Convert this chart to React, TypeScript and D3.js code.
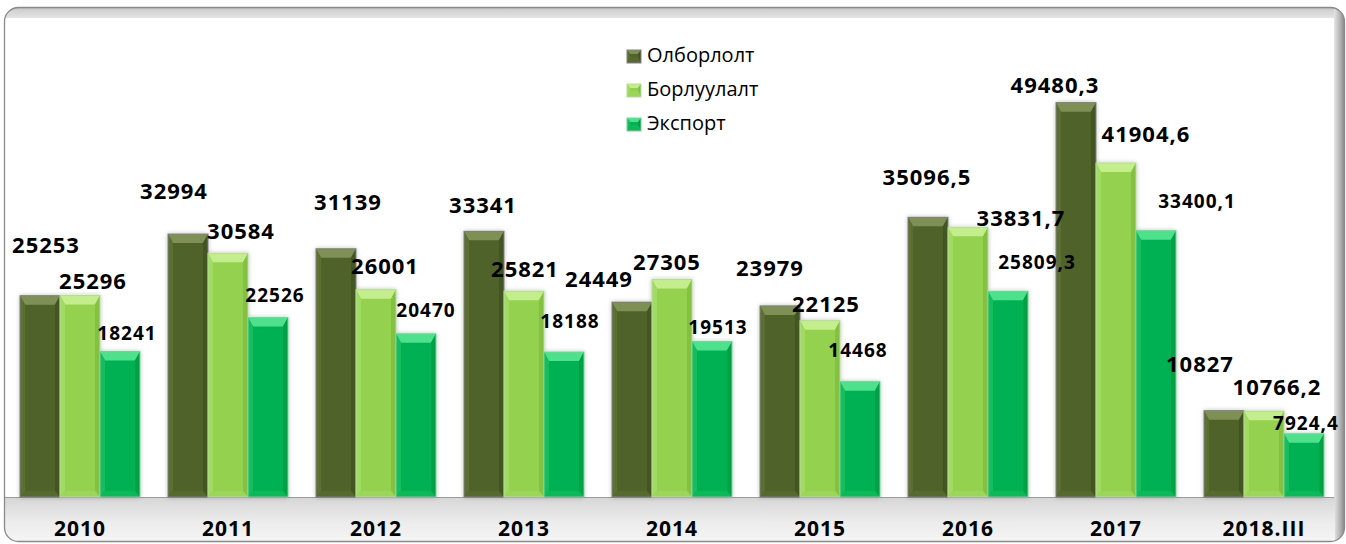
import React from "react";
import * as d3 from "d3";

// ---------- DATA ----------
const categories = ["2010", "2011", "2012", "2013", "2014", "2015", "2016", "2017", "2018.III"];
const seriesNames = ["Олборлолт", "Борлуулалт", "Экспорт"];
const olborlolt = [25253, 32994, 31139, 33341, 24449, 23979, 35096.5, 49480.3, 10827];
const borluulalt = [25296, 30584, 26001, 25821, 27305, 22125, 33831.7, 41904.6, 10766.2];
const eksport = [18241, 22526, 20470, 18188, 19513, 14468, 25809.3, 33400.1, 7924.4];
const seriesValues = [olborlolt, borluulalt, eksport];

// ---------- LAYOUT (label nudges relative to bar top centre, px) ----------
const labelNudges: [number, number][][] = [
  [[6, -43], [-14, -35], [12, -39], [-1, -18], [-33, -15], [-10, -30], [-1, -32], [-21, -10], [-24, -39]],
  [[13, -6], [13, -14], [9, -16], [1, -14], [-5, -9], [6, -9], [53, -1], [30, -21], [13, -16]],
  [[7, -12], [7, -15], [10, -17], [6, -24], [6, -7], [-2, -25], [29, -22], [41, -23], [2, -4]],
];

const W = 1346;
const H = 544;
const BASE = 497;

const palettes = [
  { main: "#4f6229", top: "#7e9055", left: "#5b6f33", right: "#435423", bottom: "#56692e", stroke: "#808080" },
  { main: "#93d150", top: "#c4ee8e", left: "#a1db62", right: "#84c143", bottom: "#9bd65a", stroke: "#b8d9a0" },
  { main: "#03b152", top: "#4fe08b", left: "#14bd5e", right: "#00a047", bottom: "#0cb858", stroke: "#7fcf9f" },
];

function BevelBar({ x, y, w, h, p, bt = 9, bs = 5 }: any) {
  const btt = Math.min(bt, h / 2);
  const bss = Math.min(bs, w / 2);
  const bb = Math.min(6, h / 2);
  return (
    <g>
      <rect x={x} y={y} width={w} height={h} fill={p.main} />
      <polygon points={`${x},${y} ${x + w},${y} ${x + w - bss},${y + btt} ${x + bss},${y + btt}`} fill={p.top} />
      <polygon points={`${x},${y} ${x + bss},${y + btt} ${x + bss},${y + h - bb} ${x},${y + h}`} fill={p.left} />
      <polygon points={`${x + w},${y} ${x + w - bss},${y + btt} ${x + w - bss},${y + h - bb} ${x + w},${y + h}`} fill={p.right} />
      <polygon points={`${x},${y + h} ${x + w},${y + h} ${x + w - bss},${y + h - bb} ${x + bss},${y + h - bb}`} fill={p.bottom} />
      <rect x={x} y={y} width={w} height={h} fill="none" stroke={p.stroke} strokeWidth={1} />
    </g>
  );
}

export default function App() {
  const x0 = d3.scaleBand<string>().domain(categories).range([6, 1338]).paddingInner(28 / 148).paddingOuter(0.0946);
  const x1 = d3.scaleBand<number>().domain([0, 1, 2]).range([0, x0.bandwidth()]).padding(0);
  const y = d3.scaleLinear().domain([0, 50000]).range([BASE, BASE - 398.5]);

  const labelFont = "'Open Sans', 'DejaVu Sans', sans-serif";

  return (
    <svg width={W} height={H} style={{ position: "absolute", left: 0, top: 0, background: "#fff" }}>
      <defs>
        <clipPath id="frameClip">
          <rect x={4.5} y={7.5} width={1340} height={534} rx={14} />
        </clipPath>
        <linearGradient id="topBand" x1="0" y1="0" x2="0" y2="1">
          <stop offset="0" stopColor="#b8b8b8" />
          <stop offset="0.3" stopColor="#d2d2d2" />
          <stop offset="1" stopColor="#e4e4e4" />
        </linearGradient>
        <linearGradient id="rightBand" x1="0" y1="0" x2="1" y2="0">
          <stop offset="0" stopColor="#e6e6e6" />
          <stop offset="0.5" stopColor="#b4b4b4" />
          <stop offset="1" stopColor="#7a7a7a" />
        </linearGradient>
        <linearGradient id="floor" x1="0" y1="0" x2="0" y2="1">
          <stop offset="0" stopColor="#d6d6d6" />
          <stop offset="0.5" stopColor="#ececec" />
          <stop offset="1" stopColor="#f7f7f7" />
        </linearGradient>
        <filter id="shadow" x="-20%" y="-10%" width="140%" height="120%">
          <feDropShadow dx="0" dy="0" stdDeviation="2" floodColor="#000" floodOpacity="0.25" />
        </filter>
      </defs>

      {/* frame */}
      <rect x={4.5} y={7.5} width={1340} height={534} rx={14} fill="#fff" />
      <g clipPath="url(#frameClip)">
        <rect x={4} y={7} width={1342} height={11} fill="url(#topBand)" />
        <rect x={1334} y={7} width={12} height={540} fill="url(#rightBand)" />
        <rect x={4} y={BASE} width={1331} height={50} fill="url(#floor)" />
      </g>
      <rect x={4.5} y={7.5} width={1340} height={534} rx={14} fill="none" stroke="#8a8a8a" strokeWidth={1.3} />
      <line x1={5} x2={1334} y1={BASE + 0.5} y2={BASE + 0.5} stroke="#9a9a9a" strokeWidth={1} />

      {/* bars */}
      <g filter="url(#shadow)">
        {categories.map((c, i) =>
          seriesValues.map((vals, s) => {
            const bx = (x0(c) as number) + (x1(s) as number);
            const by = y(vals[i]);
            return <BevelBar key={`${c}-${s}`} x={bx} y={by} w={x1.bandwidth()} h={BASE - by} p={palettes[s]} />;
          })
        )}
      </g>

      {/* data labels */}
      {categories.map((c, i) =>
        seriesValues.map((vals, s) => {
          const cx = (x0(c) as number) + (x1(s) as number) + x1.bandwidth() / 2;
          const ty = y(vals[i]);
          const [dx, dy] = labelNudges[s][i];
          const small = s === 2;
          const txt = String(vals[i]).replace(".", ",");
          return (
            <text
              key={`l-${c}-${s}`}
              x={cx + dx}
              y={ty + dy}
              textAnchor="middle"
              fontFamily={labelFont}
              fontWeight={700}
              fontSize={small ? 19 : 22}
              letterSpacing={1}
              fill="#000"
            >
              {txt}
            </text>
          );
        })
      )}

      {/* x axis labels */}
      {categories.map((c) => (
        <text
          key={`x-${c}`}
          x={(x0(c) as number) + x0.bandwidth() / 2}
          y={536}
          textAnchor="middle"
          fontFamily={labelFont}
          fontWeight={700}
          fontSize={21}
          letterSpacing={1}
          fill="#000"
        >
          {c}
        </text>
      ))}

      {/* legend */}
      {seriesNames.map((n, s) => {
        const ly = 62 + s * 34;
        return (
          <g key={`lg-${n}`}>
            <BevelBar x={627} y={ly - 12} w={14} h={13} p={palettes[s]} bt={4} bs={3} />
            <text x={647} y={ly} fontFamily={labelFont} fontSize={20} fill="#000">
              {n}
            </text>
          </g>
        );
      })}
    </svg>
  );
}
